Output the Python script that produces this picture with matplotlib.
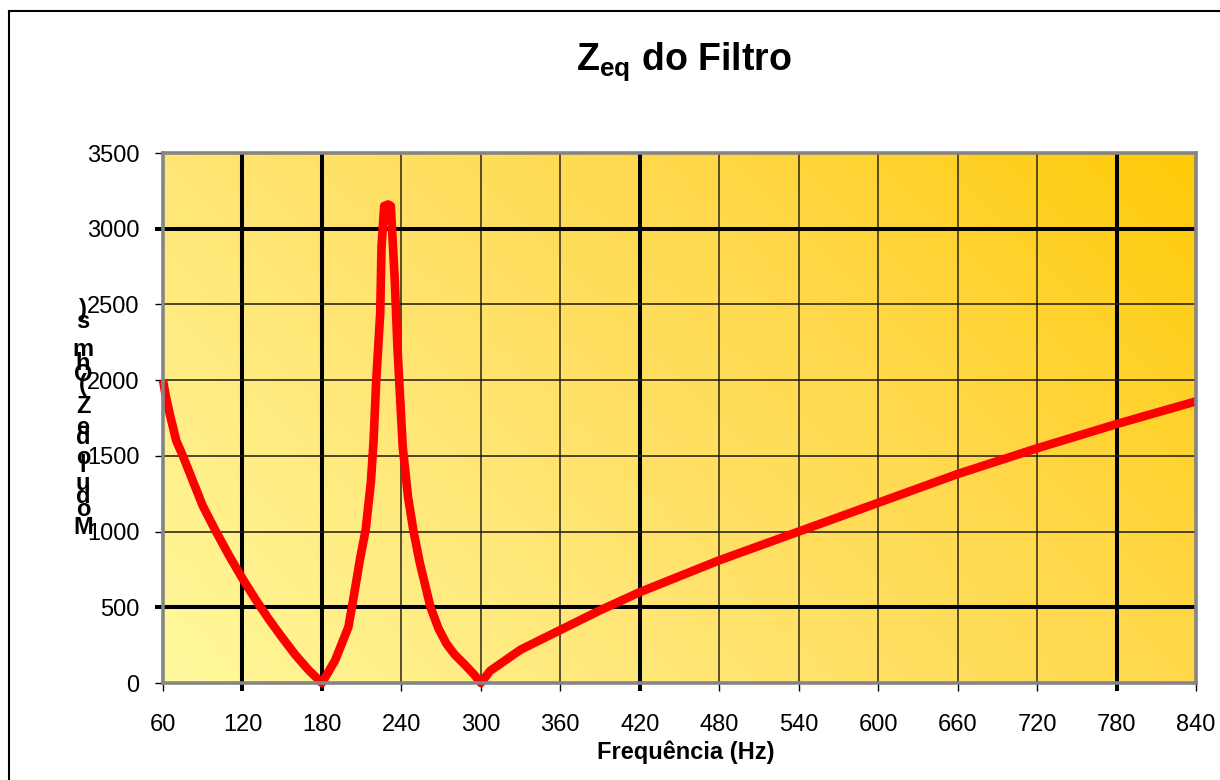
import numpy as np
import matplotlib
matplotlib.use('Agg')
import matplotlib.pyplot as plt
from matplotlib.colors import LinearSegmentedColormap
from matplotlib.lines import Line2D

# ---- data ----
freq_hz = [60, 62, 65, 70, 75, 80, 90, 100, 110, 120, 130, 140, 150, 160, 170,
           180, 190, 200, 204, 209, 213, 217, 219, 221, 224, 225, 227, 230, 232,
           235, 237, 239, 241, 245, 249, 254, 262, 268, 274, 280, 288, 295, 300,
           307, 330, 360, 390, 420, 480, 540, 600, 660, 720, 780, 840]
z_ohms = [2000, 1900, 1780, 1600, 1500, 1390, 1170, 1000, 840, 690, 550, 420, 300, 185, 85,
          0, 150, 370, 570, 830, 1010, 1330, 1600, 2000, 2440, 2880, 3150, 3160, 3150,
          2660, 2220, 1890, 1560, 1230, 1010, 790, 500, 360, 260, 190, 120, 55, 0,
          80, 220, 350, 480, 600, 810, 1000, 1190, 1380, 1550, 1710, 1860]

x_ticks = [60, 120, 180, 240, 300, 360, 420, 480, 540, 600, 660, 720, 780, 840]
y_ticks = [0, 500, 1000, 1500, 2000, 2500, 3000, 3500]
major_x = [120, 180, 420, 780]
major_y = [500, 3000]

title_main = r'$\mathbf{Z}_{\mathbf{eq}}$ do Filtro'
x_label = 'Frequência (Hz)'
y_label = 'Modulo de Z (Ohms)'

plt.rcParams['font.family'] = ['Liberation Sans', 'DejaVu Sans']
plt.rcParams['mathtext.fontset'] = 'custom'
plt.rcParams['mathtext.bf'] = 'Liberation Sans:bold'
plt.rcParams['mathtext.rm'] = 'Liberation Sans:bold'
plt.rcParams['mathtext.it'] = 'Liberation Sans:bold'

W, H = 1220, 780
fig = plt.figure(figsize=(W / 100, H / 100), dpi=100)
fig.patch.set_facecolor('white')

L, R, T, B = 163, 1196, 153, 683
ax = fig.add_axes([L / W, 1 - B / H, (R - L) / W, (B - T) / H])
ax.set_xlim(x_ticks[0], x_ticks[-1])
ax.set_ylim(y_ticks[0], y_ticks[-1])

# diagonal gradient background (bottom-left light -> top-right orange)
nx, ny = 400, 220
gx = np.linspace(0, R - L, nx)
gy = np.linspace(0, B - T, ny)
GX, GY = np.meshgrid(gx, gy)
tt = (GX + GY) / ((R - L) + (B - T))
cmap = LinearSegmentedColormap.from_list('bg', ['#FFF99C', '#FFE676', '#FFD84A', '#FFCB08'])
ax.imshow(tt, cmap=cmap, extent=[x_ticks[0], x_ticks[-1], y_ticks[0], y_ticks[-1]],
          origin='lower', aspect='auto', zorder=0, interpolation='bilinear')

# gridlines
for xv in x_ticks[1:-1]:
    if xv in major_x:
        ax.axvline(xv, color='black', lw=2.9, zorder=1)
    else:
        ax.axvline(xv, color='#2b2616', lw=1.1, zorder=1)
for yv in y_ticks[1:-1]:
    if yv in major_y:
        ax.axhline(yv, color='black', lw=2.9, zorder=1)
    else:
        ax.axhline(yv, color='#1c1a10', lw=1.1, zorder=1)

# data line
ax.plot(freq_hz, z_ohms, color='#FF0000', lw=6.2, zorder=3,
        solid_joinstyle='round', solid_capstyle='butt', clip_on=False)

for s in ax.spines.values():
    s.set_color('#858585')
    s.set_linewidth(2.6)
    s.set_zorder(4)

ax.set_xticks(x_ticks)
ax.set_yticks(y_ticks)
ax.set_xticklabels([str(v) for v in x_ticks])
ax.set_yticklabels([str(v) for v in y_ticks])
ax.tick_params(axis='x', direction='out', length=6, width=1.0, color='black',
               labelsize=17, pad=16)
ax.tick_params(axis='y', direction='out', length=6, width=1.0, color='black',
               labelsize=17, pad=11)
for tk, v in zip(ax.xaxis.get_major_ticks(), x_ticks):
    if v in major_x:
        tk.tick1line.set_markeredgewidth(2.9)
for tk, v in zip(ax.yaxis.get_major_ticks(), y_ticks):
    if v in major_y:
        tk.tick1line.set_markeredgewidth(2.9)

# title
fig.text(684 / W, 1 - 62 / H, title_main, ha='center', va='center',
         fontsize=27, fontweight='bold')
# x label
fig.text(686 / W, 1 - 752 / H, x_label, ha='center', va='center',
         fontsize=17, fontweight='bold')

# stacked (reversed) y label, as rendered in the reference
ypos = {0: 310, 1: 322, 2: 350, 3: 363, 4: 374, 5: 384, 6: 395, 7: 406, 8: 416,
        9: 427, 10: 438, 11: 448, 12: 457, 13: 466, 14: 483, 15: 497, 16: 510, 17: 527}
chars = list(reversed(y_label))
for i, ch in enumerate(chars):
    if ch == ' ':
        continue
    fig.text(83 / W, 1 - ypos[i] / H, ch, ha='center', va='center',
             fontsize=17, fontweight='bold')

# outer chart border
fig.add_artist(Line2D([9 / W, 1.0], [1 - 11 / H, 1 - 11 / H], color='black', lw=1.5))
fig.add_artist(Line2D([9 / W, 9 / W], [0.0, 1 - 11 / H], color='black', lw=1.5))

fig.savefig('out.png', dpi=100, facecolor='white')
